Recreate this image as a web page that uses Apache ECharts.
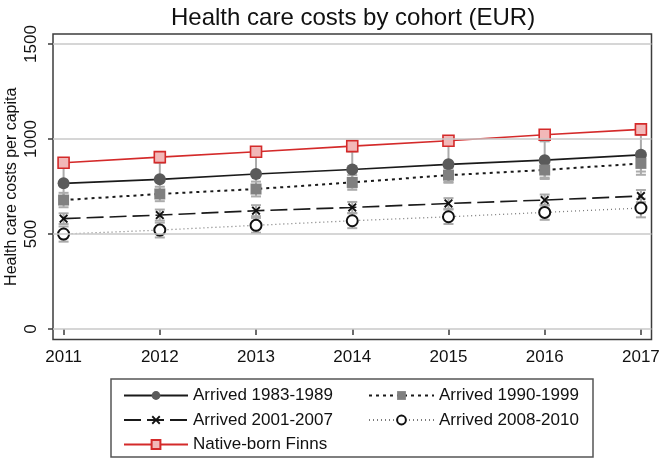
<!DOCTYPE html>
<html>
<head>
<meta charset="utf-8">
<script src="https://cdn.jsdelivr.net/npm/echarts@6/dist/echarts.min.js"></script>
<style>
  html, body { margin: 0; padding: 0; background: #fff; }
  #chart { width: 666px; height: 461px; }
</style>
</head>
<body>
<div id="chart"></div>
<script>
const years = [2011, 2012, 2013, 2014, 2015, 2016, 2017];
const yTicks = [0, 500, 1000, 1500];

const arrived8389 = [767, 788, 816, 840, 867, 889, 917];
const arrived8389Low = [682, 700, 722, 745, 770, 790, 812];
const arrived8389High = [852, 876, 910, 935, 964, 988, 1022];

const arrived9099 = [679, 711, 737, 772, 810, 837, 872];
const arrived9099Low = [641, 673, 698, 733, 774, 797, 829];
const arrived9099High = [717, 749, 776, 811, 846, 877, 915];

const arrived0107 = [581, 600, 623, 640, 661, 679, 700];
const arrived0107Low = [553, 571, 594, 611, 633, 650, 668];
const arrived0107High = [609, 629, 652, 669, 689, 708, 732];

const arrived0810 = [500, 521, 546, 570, 591, 614, 637];
const arrived0810Low = [460, 482, 507, 531, 553, 575, 588];
const arrived0810High = [540, 560, 585, 609, 629, 653, 686];

const native = [875, 905, 933, 963, 991, 1023, 1051];
const nativeLow = [869, 899, 927, 957, 985, 1017, 1045];
const nativeHigh = [881, 911, 939, 969, 997, 1029, 1057];

const FONT = '"Liberation Sans", Arial, sans-serif';
const xMark = 'path://M0,1.5L1.5,0L5,3.5L8.5,0L10,1.5L6.5,5L10,8.5L8.5,10L5,6.5L1.5,10L0,8.5L3.5,5Z';

function pairs(vals) {
    return years.map((y, i) => [y, vals[i]]);
}

function ciData(lo, hi) {
    return years.map((y, i) => [y, lo[i], hi[i]]);
}

function renderCap(params, api) {
    const top = api.coord([api.value(0), api.value(2)]);
    const bot = api.coord([api.value(0), api.value(1)]);
    const w = 5;
    const style = { stroke: '#ababab', lineWidth: 2 };
    return {
        type: 'group',
        children: [
            { type: 'line', shape: { x1: top[0], y1: top[1], x2: bot[0], y2: bot[1] }, style },
            { type: 'line', shape: { x1: top[0] - w, y1: top[1], x2: top[0] + w, y2: top[1] }, style },
            { type: 'line', shape: { x1: bot[0] - w, y1: bot[1], x2: bot[0] + w, y2: bot[1] }, style }
        ]
    };
}

function ciSeries(lo, hi) {
    return {
        type: 'custom',
        renderItem: renderCap,
        data: ciData(lo, hi),
        encode: { x: 0, y: [1, 2] },
        z: 2,
        silent: true
    };
}

const chart = echarts.init(document.getElementById('chart'));

const legendText = { fontSize: 17, color: '#111', fontFamily: FONT, lineHeight: 17 };

const option = {
    animation: false,
    textStyle: { fontFamily: FONT },
    title: {
        text: 'Health care costs by cohort (EUR)',
        left: 171,
        top: 6,
        padding: 0,
        textStyle: { fontFamily: FONT, fontSize: 24, fontWeight: 'normal', color: '#111' }
    },
    grid: {
        left: 53, right: 14.5, top: 34, bottom: 121.5,
        outerBoundsMode: 'none',
        containLabel: false,
        show: true, borderColor: '#3c3c3c', borderWidth: 1.5
    },
    xAxis: {
        type: 'value',
        min: 2010.89,
        max: 2017.11,
        axisLine: { show: false },
        splitLine: { show: false },
        axisTick: { show: true, customValues: years, length: 6, lineStyle: { color: '#3c3c3c', width: 1.5 } },
        axisLabel: {
            customValues: years,
            color: '#111', fontSize: 17, fontFamily: FONT, margin: 9,
            formatter: v => String(v)
        }
    },
    yAxis: {
        type: 'value',
        min: -55,
        max: 1553,
        name: 'Health care costs per capita',
        nameLocation: 'middle',
        nameRotate: 90,
        nameGap: 33,
        nameMoveOverlap: false,
        nameTextStyle: { fontSize: 16, color: '#111', fontFamily: FONT },
        axisLine: { show: false },
        splitLine: { show: false },
        axisTick: { show: true, customValues: yTicks, length: 5, lineStyle: { color: '#3c3c3c', width: 1.5 } },
        axisLabel: {
            customValues: yTicks,
            rotate: 90,
            color: '#111', fontSize: 17, fontFamily: FONT, margin: 13,
            formatter: v => String(v)
        }
    },
    legend: [
        {
            left: 118, top: 382, orient: 'vertical',
            itemWidth: 64, itemHeight: 11, itemGap: 7.5,
            textStyle: legendText,
            data: ['Arrived 1983-1989', 'Arrived 2001-2007', 'Native-born Finns']
        },
        {
            left: 363, top: 382, orient: 'vertical',
            itemWidth: 65, itemHeight: 11, itemGap: 7.5,
            textStyle: legendText,
            data: ['Arrived 1990-1999', 'Arrived 2008-2010']
        }
    ],
    graphic: [
        {
            type: 'rect',
            shape: { x: 111, y: 379, width: 482, height: 78 },
            style: { fill: 'none', stroke: '#555', lineWidth: 1.5 },
            silent: true
        }
    ],
    series: [
        {
            name: 'gridlines',
            type: 'line',
            data: [],
            z: 1,
            silent: true,
            markLine: {
                silent: true,
                symbol: 'none',
                label: { show: false },
                lineStyle: { color: '#c9c9c9', width: 1.5, type: 'solid' },
                data: yTicks.map(v => ({ yAxis: v }))
            }
        },
        {
            name: 'Arrived 1983-1989',
            type: 'line',
            data: pairs(arrived8389),
            symbol: 'circle', symbolSize: 12,
            lineStyle: { color: '#1a1a1a', width: 1.6, type: 'solid' },
            itemStyle: { color: '#5a5a5a' },
            z: 3
        },
        {
            name: 'Arrived 1990-1999',
            type: 'line',
            data: pairs(arrived9099),
            symbol: 'rect', symbolSize: 11,
            lineStyle: { color: '#1a1a1a', width: 2, type: [3, 4] },
            itemStyle: { color: '#808080' },
            z: 3
        },
        {
            name: 'Arrived 2001-2007',
            type: 'line',
            data: pairs(arrived0107),
            symbol: xMark, symbolSize: 9,
            lineStyle: { color: '#1a1a1a', width: 1.6, type: [17, 6] },
            itemStyle: { color: '#111' },
            z: 3
        },
        {
            name: 'Arrived 2008-2010',
            type: 'line',
            data: pairs(arrived0810),
            symbol: 'circle', symbolSize: 11,
            lineStyle: { color: '#7a7a7a', width: 1.3, type: [1, 3] },
            itemStyle: { color: '#ffffff', borderColor: '#111', borderWidth: 2 },
            z: 3
        },
        {
            name: 'Native-born Finns',
            type: 'line',
            data: pairs(native),
            symbol: 'rect', symbolSize: 11,
            lineStyle: { color: '#d42a2a', width: 1.6, type: 'solid' },
            itemStyle: { color: '#f2b8b8', borderColor: '#d42a2a', borderWidth: 1.6 },
            z: 3
        },
        ciSeries(arrived8389Low, arrived8389High),
        ciSeries(arrived9099Low, arrived9099High),
        ciSeries(arrived0107Low, arrived0107High),
        ciSeries(arrived0810Low, arrived0810High),
        ciSeries(nativeLow, nativeHigh)
    ]
};

chart.setOption(option);
</script>
</body>
</html>
